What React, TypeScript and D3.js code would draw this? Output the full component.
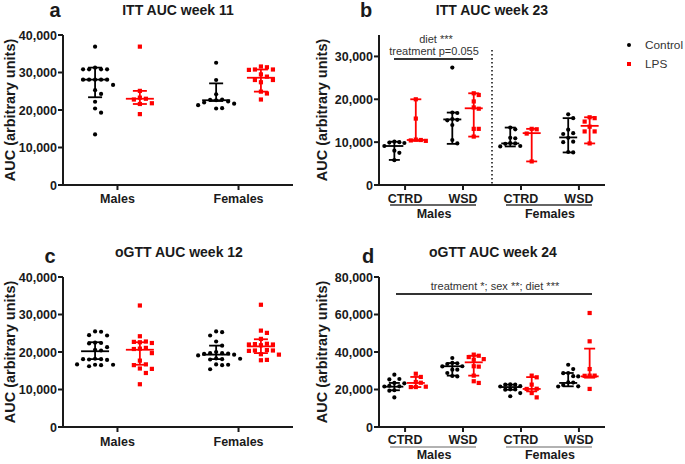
import React from "react";
import * as d3 from "d3";

// ---------- Panel a: ITT AUC week 11 ----------
const aCats = ["Males", "Females"];
const aTicks = [0, 10000, 20000, 30000, 40000];
const aMaleCtl = [36900, 31300, 30850, 30850, 30850, 30850, 28100, 28100, 28100, 28100, 28100, 26700, 25300, 24300, 22200, 20400, 19300, 13500];
const aMaleLps = [36900, 25100, 23300, 23000, 22800, 21800, 21600, 18900];
const aFemCtl = [32600, 28000, 24200, 22800, 22700, 22600, 22300, 22000, 21700, 21300, 20400, 20500];
const aFemLps = [31600, 31400, 30800, 30800, 30700, 29500, 28900, 28000, 28000, 27400, 24900, 24400, 22800];
const aCtlStats = [[23400, 28100, 31300], [22400, 22600, 27100]];
const aLpsStats = [[21600, 23000, 25100], [24900, 28600, 30800]];

// ---------- Panel b: ITT AUC week 23 ----------
const bTickLabels = ["CTRD", "WSD", "CTRD", "WSD"];
const bTicks = [0, 10000, 20000, 30000];
const bMCtrdCtl = [10100, 10000, 9900, 9800, 9100, 8000, 7500, 5800];
const bMCtrdLps = [20000, 15500, 10600, 10500, 10400, 10300];
const bMWsdCtl = [27400, 16900, 16800, 15400, 15200, 15100, 14000, 10500, 9700];
const bMWsdLps = [21400, 21000, 19500, 18100, 17800, 13100, 13100, 11300];
const bFCtrdCtl = [13400, 13000, 11000, 10900, 9800, 9700, 9600, 9100, 9000];
const bFCtrdLps = [13100, 13000, 12000, 5500];
const bFWsdCtl = [16500, 15600, 12900, 12100, 11900, 11000, 10100, 10000, 7700, 7600];
const bFWsdLps = [15800, 15600, 14800, 13600, 12500, 12500, 9700];
const bCtlStats = [[5850, 9100, 10100], [9600, 15300, 16900], [9000, 9700, 13400], [7600, 11100, 15600]];
const bLpsStats = [[10300, 10500, 20000], [11300, 17900, 21400], [5500, 12100, 13100], [9700, 13800, 15800]];

// ---------- Panel c: oGTT AUC week 12 ----------
const cCats = ["Males", "Females"];
const cTicks = [0, 10000, 20000, 30000, 40000];
const cMaleCtl = [25500, 25400, 24500, 24400, 22500, 22400, 22300, 21300, 20600, 20400, 18200, 18100, 18000, 17900, 18100, 16600, 16600, 16500, 16700, 16200];
const cMaleLps = [32400, 24200, 22800, 22700, 22600, 22400, 21100, 20900, 20800, 19700, 17700, 16700, 16500, 15600, 15500, 14400, 11400];
const cFemCtl = [25500, 25300, 24400, 22800, 21700, 20000, 19700, 19700, 19600, 19500, 19300, 19100, 18300, 18200, 18100, 18000, 16700, 16600, 16500, 15400];
const cFemLps = [32600, 25700, 25100, 23500, 22200, 22100, 22000, 22000, 21800, 20500, 20400, 20400, 20300, 19400, 19300, 17900, 17800];
const cCtlStats = [[18100, 20200, 22600], [18100, 19300, 21700]];
const cLpsStats = [[16600, 20600, 22600], [19700, 21500, 23400]];

// ---------- Panel d: oGTT AUC week 24 ----------
const dTickLabels = ["CTRD", "WSD", "CTRD", "WSD"];
const dTicks = [0, 20000, 40000, 60000, 80000];
const dMCtrdCtl = [27900, 25600, 25400, 23500, 23300, 21700, 22000, 21600, 19600, 19400, 15800];
const dMCtrdLps = [28400, 26700, 24000, 23600, 21300, 21300, 21500];
const dMWsdCtl = [36800, 34200, 34000, 33600, 32400, 32300, 30600, 30600, 28800, 27200, 27000];
const dMWsdLps = [38600, 38000, 37300, 36200, 35900, 32400, 32200, 27400, 24400, 23500];
const dFCtrdCtl = [22700, 22600, 22600, 21800, 21600, 20100, 20000, 19900, 18100, 16400];
const dFCtrdLps = [27400, 26500, 22600, 20400, 20300, 18100, 15800];
const dFWsdCtl = [33200, 30900, 28800, 28700, 27100, 27000, 23800, 23700, 22400, 21700, 21600];
const dFWsdLps = [60800, 45700, 30900, 27400, 27400, 27300, 20300];
const dCtlStats = [[19600, 21500, 23500], [27400, 32400, 34100], [19900, 21300, 22600], [21700, 23500, 28800]];
const dLpsStats = [[21300, 23500, 26700], [27400, 34500, 38000], [19000, 20300, 26600], [26300, 27000, 41800]];

const sexLabels = ["Males", "Females"];
const legendLabels = ["Control", "LPS"];

const FONT = "'Liberation Sans', Arial, Helvetica, sans-serif";
const RED = "#ff0000";
const INK = "#1a1a1a";

type Pt = { x: number; y: number };

function swarm(vals: number[], y: (v: number) => number, cx: number, d: number): Pt[] {
  const pts: Pt[] = [];
  for (const v of vals) {
    const py = y(v);
    let px = cx;
    for (let i = 0; i < 60; i++) {
      const off = i === 0 ? 0 : (i % 2 === 1 ? 1 : -1) * Math.ceil(i / 2) * d;
      const cand = cx + off;
      if (pts.every((p) => Math.hypot(p.x - cand, p.y - py) >= d * 0.95)) {
        px = cand;
        break;
      }
    }
    pts.push({ x: px, y: py });
  }
  return pts;
}

type PanelProps = {
  letter: string;
  letterX: number;
  letterY: number;
  title: string;
  titleX: number;
  titleY: number;
  xLeft: number;
  xRight: number;
  yBottom: number;
  yTop: number;
  max: number;
  ticks: number[];
  tickLabels: string[];
  ctl: number[][];
  lps: number[][];
  ctlStats: number[][];
  lpsStats: number[][];
  dist: number;
  medHalf: number;
  capHalf: number;
  ylabelX: number;
  tickLabelY: number;
  children?: React.ReactNode;
};

function Panel(p: PanelProps) {
  const y = d3.scaleLinear().domain([0, p.max]).range([p.yBottom, p.yTop]);
  const x = d3
    .scalePoint<string>()
    .domain(p.tickLabels.map((_, i) => String(i)))
    .range([p.xLeft, p.xRight])
    .padding(0.45);
  const step = x.step();
  const off = step * 0.185;
  const fmt = d3.format(",");
  const bars = (stats: number[], cx: number, color: string, key: string) => {
    const [lo, mid, hi] = stats;
    return (
      <g key={key} stroke={color} strokeWidth={1.8} fill="none">
        <line x1={cx} x2={cx} y1={y(lo)} y2={y(hi)} />
        <line x1={cx - p.capHalf} x2={cx + p.capHalf} y1={y(lo)} y2={y(lo)} />
        <line x1={cx - p.capHalf} x2={cx + p.capHalf} y1={y(hi)} y2={y(hi)} />
        <line x1={cx - p.medHalf} x2={cx + p.medHalf} y1={y(mid)} y2={y(mid)} />
      </g>
    );
  };
  return (
    <g fontFamily={FONT}>
      <text x={p.letterX} y={p.letterY} fontSize={20} fontWeight="bold" fill={INK} textAnchor="middle">
        {p.letter}
      </text>
      <text x={p.titleX} y={p.titleY} fontSize={14} fontWeight="bold" fill={INK} textAnchor="middle">
        {p.title}
      </text>
      <text
        transform={`translate(${p.ylabelX},${(p.yBottom + p.yTop) / 2}) rotate(-90)`}
        fontSize={14.5}
        fontWeight="bold"
        fill={INK}
        textAnchor="middle"
        dy="0.35em"
      >
        AUC (arbitrary units)
      </text>
      {/* y axis */}
      <line x1={p.xLeft} x2={p.xLeft} y1={p.yBottom} y2={y(p.max)} stroke={INK} strokeWidth={2} />
      {p.ticks.map((t) => (
        <g key={t}>
          <line x1={p.xLeft - 5} x2={p.xLeft} y1={y(t)} y2={y(t)} stroke={INK} strokeWidth={2} />
          <text x={p.xLeft - 6} y={y(t)} dy="0.36em" fontSize={12.5} fontWeight="bold" fill={INK} textAnchor="end">
            {fmt(t)}
          </text>
        </g>
      ))}
      {/* x axis */}
      <line x1={p.xLeft - 1} x2={p.xRight} y1={p.yBottom} y2={p.yBottom} stroke={INK} strokeWidth={2} />
      {p.tickLabels.map((lab, i) => {
        const cx = x(String(i)) as number;
        return (
          <g key={i}>
            <line x1={cx} x2={cx} y1={p.yBottom} y2={p.yBottom + 5} stroke={INK} strokeWidth={2} />
            <text x={cx} y={p.tickLabelY} fontSize={12.5} fontWeight="bold" fill={INK} textAnchor="middle">
              {lab}
            </text>
          </g>
        );
      })}
      {p.children}
      {/* points */}
      {p.tickLabels.map((_, i) => {
        const cx = x(String(i)) as number;
        const cp = swarm(p.ctl[i], y, cx - off, p.dist);
        const lp = swarm(p.lps[i], y, cx + off, p.dist);
        return (
          <g key={"pts" + i}>
            {cp.map((q, j) => (
              <circle key={j} cx={q.x} cy={q.y} r={2.1} fill="#000" />
            ))}
            {lp.map((q, j) => (
              <rect key={j} x={q.x - 2.1} y={q.y - 2.1} width={4.2} height={4.2} fill={RED} />
            ))}
            {bars(p.ctlStats[i], cx - off, "#000", "cb" + i)}
            {bars(p.lpsStats[i], cx + off, RED, "lb" + i)}
          </g>
        );
      })}
    </g>
  );
}

function SexLabels(props: { xLeft: number; xRight: number; lineY: number; textY: number; color: string }) {
  const x = d3
    .scalePoint<string>()
    .domain(["0", "1", "2", "3"])
    .range([props.xLeft, props.xRight])
    .padding(0.45);
  const groups = [
    [x("0") as number, x("1") as number],
    [x("2") as number, x("3") as number],
  ];
  return (
    <g fontFamily={FONT}>
      {groups.map(([a, b], i) => (
        <g key={i}>
          <line x1={a - 15} x2={b + 13} y1={props.lineY} y2={props.lineY} stroke={props.color} strokeWidth={1.6} />
          <text x={(a + b) / 2} y={props.textY} fontSize={12.5} fontWeight="bold" fill={INK} textAnchor="middle">
            {sexLabels[i]}
          </text>
        </g>
      ))}
    </g>
  );
}

export default function App() {
  return (
    <svg width={685} height={464} style={{ position: "absolute", left: 0, top: 0, background: "#fff" }}>
      <rect width={685} height={464} fill="#fff" />
      <Panel
        letter="a" letterX={55} letterY={17}
        title="ITT AUC week 11" titleX={178} titleY={15}
        xLeft={63} xRight={293} yBottom={185} yTop={35} max={40000}
        ticks={aTicks} tickLabels={aCats}
        ctl={[aMaleCtl, aFemCtl]} lps={[aMaleLps, aFemLps]}
        ctlStats={aCtlStats} lpsStats={aLpsStats}
        dist={6} medHalf={14} capHalf={7} ylabelX={10} tickLabelY={203}
      />
      <Panel
        letter="b" letterX={366} letterY={17}
        title="ITT AUC week 23" titleX={492} titleY={15}
        xLeft={379} xRight={605} yBottom={185} yTop={35} max={35000}
        ticks={bTicks} tickLabels={bTickLabels}
        ctl={[bMCtrdCtl, bMWsdCtl, bFCtrdCtl, bFWsdCtl]} lps={[bMCtrdLps, bMWsdLps, bFCtrdLps, bFWsdLps]}
        ctlStats={bCtlStats} lpsStats={bLpsStats}
        dist={5} medHalf={9} capHalf={5.5} ylabelX={322} tickLabelY={203}
      >
        <line x1={492} x2={492} y1={50} y2={185} stroke={INK} strokeWidth={1.6} strokeDasharray="1.6,2.4" />
        <line x1={394} x2={473} y1={59} y2={59} stroke="#333" strokeWidth={1.8} />
        <text x={436} y={43} fontFamily={FONT} fontSize={11} fill="#333" textAnchor="middle">diet ***</text>
        <text x={434} y={55} fontFamily={FONT} fontSize={11} fill="#333" textAnchor="middle">treatment p=0.055</text>
      </Panel>
      <SexLabels xLeft={379} xRight={605} lineY={205} textY={218} color="#333" />
      <Panel
        letter="c" letterX={50} letterY={263}
        title="oGTT AUC week 12" titleX={179} titleY={257}
        xLeft={63} xRight={293} yBottom={427} yTop={277} max={40000}
        ticks={cTicks} tickLabels={cCats}
        ctl={[cMaleCtl, cFemCtl]} lps={[cMaleLps, cFemLps]}
        ctlStats={cCtlStats} lpsStats={cLpsStats}
        dist={6} medHalf={14} capHalf={7} ylabelX={10} tickLabelY={446}
      />
      <Panel
        letter="d" letterX={368} letterY={263}
        title="oGTT AUC week 24" titleX={493} titleY={257}
        xLeft={379} xRight={605} yBottom={427} yTop={277} max={80000}
        ticks={dTicks} tickLabels={dTickLabels}
        ctl={[dMCtrdCtl, dMWsdCtl, dFCtrdCtl, dFWsdCtl]} lps={[dMCtrdLps, dMWsdLps, dFCtrdLps, dFWsdLps]}
        ctlStats={dCtlStats} lpsStats={dLpsStats}
        dist={5} medHalf={9} capHalf={5.5} ylabelX={322} tickLabelY={444}
      >
        <line x1={396} x2={592} y1={294} y2={294} stroke="#333" strokeWidth={1.8} />
        <text x={495} y={290} fontFamily={FONT} fontSize={11} fill="#333" textAnchor="middle">
          treatment *; sex **; diet ***
        </text>
      </Panel>
      <SexLabels xLeft={379} xRight={605} lineY={447} textY={459} color="#999" />
      {/* legend */}
      <g fontFamily={FONT}>
        <circle cx={629} cy={45} r={2} fill="#000" />
        <text x={645} y={45} dy="0.36em" fontSize={11.8} fill="#333">{legendLabels[0]}</text>
        <rect x={627} y={62} width={4} height={4} fill={RED} />
        <text x={645} y={64} dy="0.36em" fontSize={11.8} fill="#333">{legendLabels[1]}</text>
      </g>
    </svg>
  );
}
